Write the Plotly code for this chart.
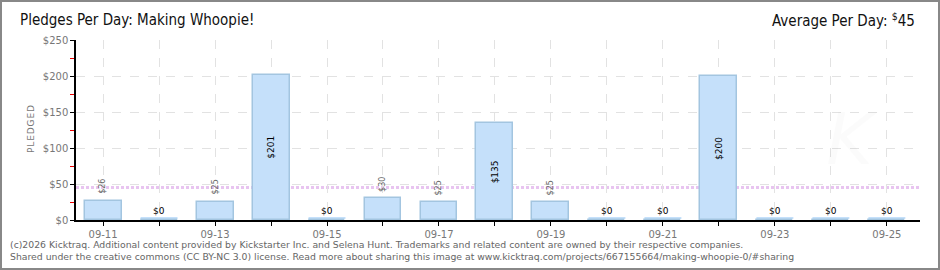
import plotly.graph_objects as go
import pandas as pd

# ---- data ----
dates = ["2025-09-11", "2025-09-12", "2025-09-13", "2025-09-14", "2025-09-15",
         "2025-09-16", "2025-09-17", "2025-09-18", "2025-09-19", "2025-09-20",
         "2025-09-21", "2025-09-22", "2025-09-23", "2025-09-24", "2025-09-25"]
pledged = [26, 0, 25, 201, 0, 30, 25, 135, 25, 0, 0, 200, 0, 0, 0]
average_per_day = 45
title_text = "Pledges Per Day: Making Whoopie!"
y_ticks = [0, 50, 100, 150, 200, 250]
y_tick_labels = [f"${v}" for v in y_ticks]
footer_lines = [
    "(c)2026 Kicktraq. Additional content provided by Kickstarter Inc. and Selena Hunt. Trademarks and related content are owned by their respective companies.",
    "Shared under the creative commons (CC BY-NC 3.0) license. Read more about sharing this image at www.kicktraq.com/projects/667155664/making-whoopie-0/#sharing",
]

# ---- layout constants ----
W, H = 940, 270
ML, MR, MT, MB = 76, 20, 40, 50
PW, PH = W - ML - MR, H - MT - MB
DAY_MS = 86400000
BAR_W = 0.66 * DAY_MS

x = pd.to_datetime(dates)
tick_font = dict(family="DejaVu Sans", size=10, color="#777")
head_font = "DejaVu Sans Condensed, sans-serif"

fig = go.Figure()
fig.add_trace(go.Bar(
    x=x, y=pledged, width=BAR_W,
    marker=dict(color="#c5e0fa", line=dict(color="#a3c5e0", width=1.5)),
    hoverinfo="skip",
))

shapes = []
annotations = []
inside_threshold = 100
for d, v in zip(x, pledged):
    if v == 0:
        shapes.append(dict(
            type="rect", xref="x", yref="y", layer="below",
            x0=d - pd.Timedelta(milliseconds=BAR_W / 2),
            x1=d + pd.Timedelta(milliseconds=BAR_W / 2),
            ysizemode="pixel", yanchor=0, y0=1, y1=3,
            fillcolor="#c5e0fa", line=dict(width=0),
        ))
        annotations.append(dict(
            x=d, y=0, xref="x", yref="y", text="$0", showarrow=False,
            yanchor="bottom", yshift=2,
            font=dict(family="DejaVu Sans", size=9, color="#000"),
        ))
    elif v >= inside_threshold:
        annotations.append(dict(
            x=d, y=v / 2, xref="x", yref="y", text=f"${v}", showarrow=False,
            textangle=-90,
            font=dict(family="DejaVu Sans", size=9, color="#000"),
        ))
    else:
        annotations.append(dict(
            x=d, y=v, xref="x", yref="y", text=f"${v}", showarrow=False,
            textangle=-90, yanchor="bottom", yshift=5,
            font=dict(family="DejaVu Sans", size=8, color="#666"),
        ))

# average line
shapes.append(dict(
    type="line", xref="paper", yref="y", x0=0, x1=1,
    y0=average_per_day, y1=average_per_day, layer="below",
    line=dict(color="#e8c4f0", width=3, dash="3px,2px"),
))
# outer border
shapes.append(dict(
    type="rect", xref="paper", yref="paper",
    x0=-(ML - 1) / PW, x1=1 + (MR - 1) / PW,
    y0=-(MB - 1) / PH, y1=1 + (MT - 1) / PH,
    line=dict(color="#888", width=2), fillcolor="rgba(0,0,0,0)",
))

# title right
annotations.append(dict(
    xref="paper", yref="paper", x=1 - 3 / PW, y=1 + (MT - 20) / PH,
    xanchor="right", yanchor="middle", showarrow=False,
    text=f"Average Per Day: <sup>$</sup>{average_per_day}",
    font=dict(family=head_font, size=15, color="#111"),
))
# y-axis title
annotations.append(dict(
    xref="paper", yref="paper", x=-(ML - 31) / PW, y=0.5,
    xanchor="center", yanchor="middle", showarrow=False, textangle=-90,
    text="\u200aP\u200aL\u200aE\u200aD\u200aG\u200aE\u200aD",
    font=dict(family="DejaVu Sans", size=9, color="#777"),
))
# watermark
annotations.append(dict(
    xref="paper", yref="paper", x=1 - 40 / PW, y=0.45,
    showarrow=False, text="<i>K</i>",
    font=dict(family="DejaVu Sans", size=72, color="rgba(0,0,0,0.015)"),
))
# footer
for i, line in enumerate(footer_lines):
    annotations.append(dict(
        xref="paper", yref="paper", x=-(ML - 8) / PW, y=-(24 + 12 * i) / PH,
        xanchor="left", yanchor="middle", showarrow=False, text=line,
        font=dict(family="DejaVu Sans", size=9.3, color="#666"),
    ))

x_start = x[0] - pd.Timedelta(hours=11.6)
x_end = x[-1] + pd.Timedelta(hours=14.2)

fig.update_layout(
    width=W, height=H,
    margin=dict(l=ML, r=MR, t=MT, b=MB),
    paper_bgcolor="white", plot_bgcolor="white",
    showlegend=False, bargap=0,
    title=dict(
        text=title_text, x=20 / W, xanchor="left", xref="container",
        y=1 - 20 / H, yanchor="middle", yref="container",
        font=dict(family=head_font, size=15, color="#111"),
    ),
    xaxis=dict(
        type="date", range=[x_start, x_end],
        tick0=dates[0], dtick=2 * DAY_MS, tickformat="%m-%d",
        showline=True, linecolor="#000", linewidth=1.5,
        ticks="outside", tickcolor="#000", ticklen=4, tickwidth=1,
        tickfont=tick_font,
        showgrid=True, gridcolor="#e2e2e2", griddash="dash", gridwidth=1,
        minor=dict(dtick=DAY_MS, tick0=dates[0], ticks="outside", ticklen=4,
                   tickcolor="#000", showgrid=True, gridcolor="#e2e2e2",
                   griddash="dash"),
        zeroline=False, fixedrange=True,
    ),
    yaxis=dict(
        range=[0, 250], tickmode="array", tickvals=y_ticks, ticktext=y_tick_labels,
        showline=True, linecolor="#000", linewidth=1.5,
        ticks="outside", tickcolor="#000", ticklen=4,
        tickfont=tick_font,
        showgrid=True, gridcolor="#e2e2e2", griddash="dash", gridwidth=1,
        minor=dict(dtick=25, tick0=0, ticks="outside", ticklen=4,
                   tickcolor="#e00", showgrid=False),
        zeroline=False, fixedrange=True,
    ),
    shapes=shapes,
    annotations=annotations,
)

fig.write_html("out.html")
